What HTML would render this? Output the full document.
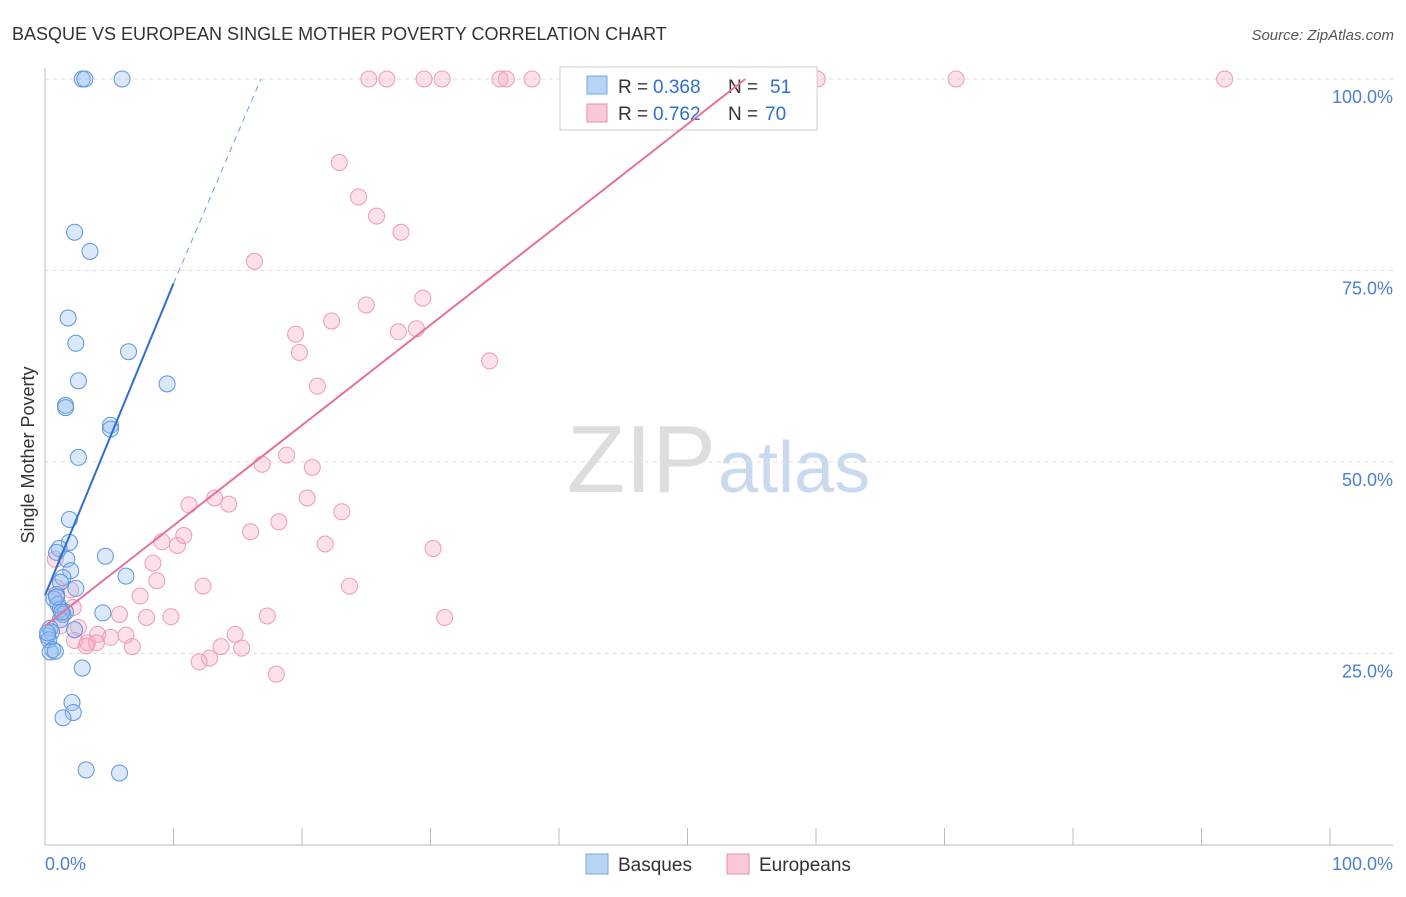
<!DOCTYPE html>
<html><head><meta charset="utf-8"><style>
body{margin:0;background:#fff;font-family:"Liberation Sans",sans-serif;}
svg text{font-family:"Liberation Sans",sans-serif;}
</style></head><body>
<svg id="c" width="1406" height="892" xmlns="http://www.w3.org/2000/svg">
<text x="12" y="40" font-size="18" fill="#333">BASQUE VS EUROPEAN SINGLE MOTHER POVERTY CORRELATION CHART</text>
<text x="1394" y="40" font-size="15" fill="#555" text-anchor="end" font-style="italic">Source: ZipAtlas.com</text>
<text x="716" y="492" font-size="96" fill="#ddd" text-anchor="end" font-family="Liberation Serif">ZIP</text>
<text x="718" y="492" font-size="72" fill="#c9d9ee">atlas</text>
<g id="grid"></g><g id="pts"></g>
<text x="34" y="455" font-size="18" fill="#333" text-anchor="middle" transform="rotate(-90 34 455)">Single Mother Poverty</text>
<text x="45" y="870" font-size="18" fill="#4a7fd4">0.0%</text>
<text x="1393" y="870" font-size="18" fill="#4a7fd4" text-anchor="end">100.0%</text>
<g>
<rect x="560" y="67" width="257" height="63" fill="#fff" stroke="#ccc"/>
<rect x="587" y="76" width="20" height="18" fill="#b8d4f5" stroke="#7aa7e0"/>
<rect x="587" y="104" width="20" height="18" fill="#f9c9d7" stroke="#eb8fab"/>
<text x="618" y="93" font-size="19" fill="#333">R =</text>
<text x="653" y="93" font-size="19" fill="#2f6ed0">0.368</text>
<text x="728" y="93" font-size="19" fill="#333">N =</text>
<text x="770" y="93" font-size="19" fill="#2f6ed0">51</text>
<text x="618" y="120" font-size="19" fill="#333">R =</text>
<text x="653" y="120" font-size="19" fill="#2f6ed0">0.762</text>
<text x="728" y="120" font-size="19" fill="#333">N =</text>
<text x="765" y="120" font-size="19" fill="#2f6ed0">70</text>
</g>
<g id="lines"></g>
<g>
<rect x="586" y="854" width="22" height="20" fill="#b8d4f5" stroke="#7aa7e0"/>
<text x="618" y="871" font-size="19" fill="#333">Basques</text>
<rect x="727" y="854" width="22" height="20" fill="#f9c9d7" stroke="#eb8fab"/>
<text x="759" y="871" font-size="19" fill="#333">Europeans</text>
</g>
</svg>
<script>
const yTicks=[25,50,75,100];
const xTicks=[0,10,20,30,40,50,60,70,80,90,100];
const basqueX=[2.9,3.1,6.0,2.3,3.5,1.8,2.4,6.5,2.6,9.5,1.6,1.6,5.1,5.1,2.6,1.9,1.9,1.1,0.9,1.7,4.7,2.0,6.3,1.4,1.2,2.4,0.9,0.7,1.0,1.2,1.6,1.4,4.5,1.2,2.3,0.4,0.5,0.2,0.3,0.6,0.4,0.8,2.9,2.1,2.2,1.4,3.2,5.8,0.9,1.3,0.2];
const basqueY=[100,100,100,80,77.5,68.8,65.5,64.4,60.6,60.2,57.4,57.1,54.8,54.3,50.6,42.5,39.5,38.7,38.2,37.3,37.7,35.8,35.1,34.9,34.3,33.5,32.7,32.1,31.4,30.8,30.4,30.1,30.3,29.4,28.1,28.3,27.8,27.3,26.8,25.5,25.2,25.3,23.1,18.6,17.3,16.6,9.8,9.4,32.4,30.4,27.7];
const euroX=[25.2,26.6,29.5,30.9,35.4,35.9,37.9,44.7,60.1,70.9,91.8,22.9,24.4,25.8,27.7,16.3,29.4,25.0,22.3,19.5,27.5,28.9,19.8,34.6,21.2,18.8,16.9,20.8,11.2,13.2,14.3,20.4,23.1,18.2,16.0,9.1,10.3,10.8,21.8,30.2,8.4,8.7,12.3,23.7,7.4,2.0,2.2,5.8,7.9,9.8,17.3,31.1,2.6,4.1,6.3,14.8,5.1,2.3,3.3,4.0,3.2,6.8,13.7,15.3,12.8,12.0,18.0,0.8,0.9,1.2];
const euroY=[100,100,100,100,100,100,100,100,100,100,100,89.1,84.6,82.1,80,76.2,71.4,70.5,68.4,66.7,67.0,67.4,64.3,63.2,59.9,50.9,49.7,49.3,44.4,45.3,44.5,45.3,43.5,42.2,40.9,39.6,39.1,40.4,39.3,38.7,36.8,34.5,33.8,33.8,32.5,33.3,31.0,30.1,29.7,29.8,29.9,29.7,28.4,27.5,27.4,27.5,27.1,26.7,26.4,26.4,26.0,25.9,25.9,25.7,24.4,23.9,22.3,37.3,33.6,28.6];
const basqueFit=[[0,32.6],[10,73.3]], basqueDash=[[10,73.3],[16.8,100]];
const euroFit=[[0,28.6],[54.5,100]];
const X0=45,X1=1330,Y0=845,Y100=79;
const sx=v=>X0+(X1-X0)*v/100, sy=v=>Y0-(Y0-Y100)*v/100;
const NS="http://www.w3.org/2000/svg";
function mk(t,a,p){const e=document.createElementNS(NS,t);for(const k in a)e.setAttribute(k,a[k]);p.appendChild(e);return e;}
const g=document.getElementById('grid');
yTicks.forEach(t=>{
 const l=mk('line',{x1:45,x2:1393,y1:sy(t),y2:sy(t),stroke:'#ddd','stroke-dasharray':'4 4'},g);
 
 
 const tx=mk('text',{x:1393,y:sy(t)+24,'font-size':18,fill:'#4a7fd4','text-anchor':'end'},g);tx.textContent=t.toFixed(1)+'%';
 
 
});
const ax=mk('line',{x1:45,x2:1393,y1:845,y2:845,stroke:'#bbb'},g);


const ay=mk('line',{x1:45,x2:45,y1:68,y2:845,stroke:'#bbb'},g);


xTicks.forEach(t=>{const l=mk('line',{x1:sx(t),x2:sx(t),y1:828,y2:845,stroke:'#bbb'},g);
 
 });
const p=document.getElementById('pts');
euroX.forEach((x,i)=>{const c=mk('circle',{cx:sx(x),cy:sy(euroY[i]),r:8,fill:'rgba(246,170,195,0.35)',stroke:'#ee9ab5','stroke-width':1},p);
 
 });
basqueX.forEach((x,i)=>{const c=mk('circle',{cx:sx(x),cy:sy(basqueY[i]),r:8,fill:'rgba(150,190,240,0.35)',stroke:'#5d95dd','stroke-width':1},p);
 
 });
const L=document.getElementById('lines');
let l1=mk('line',{x1:sx(euroFit[0][0]),y1:sy(euroFit[0][1]),x2:sx(euroFit[1][0]),y2:sy(euroFit[1][1]),stroke:'#e8709a','stroke-width':2},L);


let l2=mk('line',{x1:sx(basqueFit[0][0]),y1:sy(basqueFit[0][1]),x2:sx(basqueFit[1][0]),y2:sy(basqueFit[1][1]),stroke:'#2f6ed0','stroke-width':2},L);


let l3=mk('line',{x1:sx(basqueDash[0][0]),y1:sy(basqueDash[0][1]),x2:sx(basqueDash[1][0]),y2:sy(basqueDash[1][1]),stroke:'#6f9ee0','stroke-width':1,'stroke-dasharray':'6 5'},L);


</script>
</body></html>
